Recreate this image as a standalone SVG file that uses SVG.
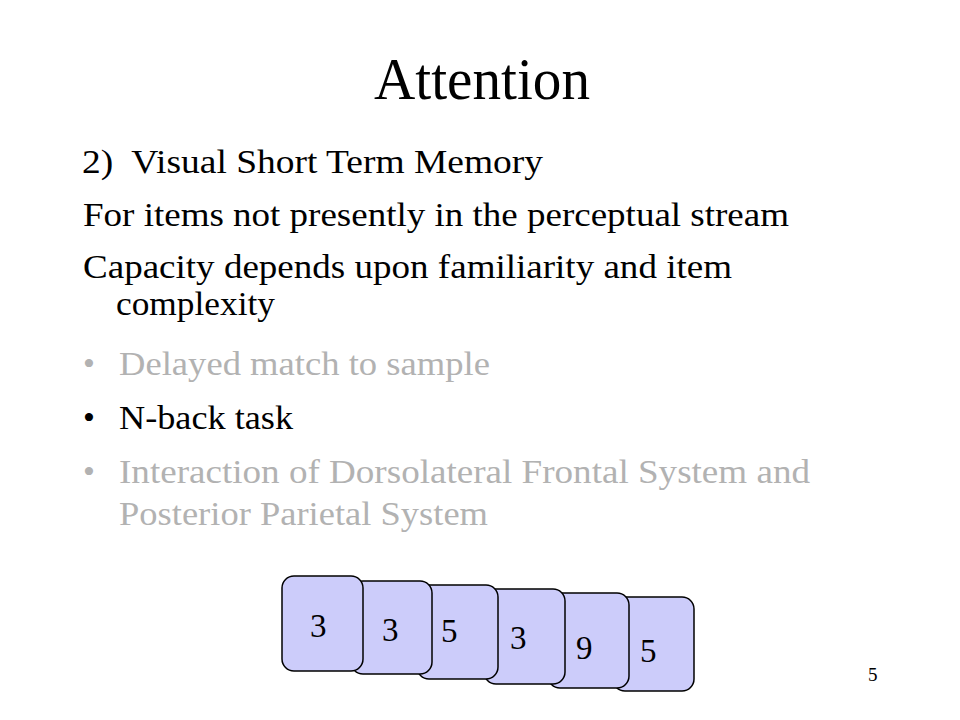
<svg xmlns="http://www.w3.org/2000/svg" width="960" height="720" viewBox="0 0 960 720">
<style>
.t{font-family:"Liberation Serif","Times New Roman",serif;fill:#000}
.b{font-size:34px}
.g{fill:#b2b2b2}
.card{fill:#ccccfa;stroke:#000;stroke-width:1.5}
.d{font-family:"Liberation Serif","Times New Roman",serif;font-size:33px;fill:#000}
</style>
<rect width="960" height="720" fill="#fff"/>
<g id="title"><text class="t" x="374" y="99" font-size="60" textLength="216" lengthAdjust="spacingAndGlyphs">Attention</text></g>
<g id="body">
<text class="t b" x="82" y="173" textLength="461" lengthAdjust="spacingAndGlyphs" xml:space="preserve">2)  Visual Short Term Memory</text>
<text class="t b" x="83" y="226" textLength="706" lengthAdjust="spacingAndGlyphs">For items not presently in the perceptual stream</text>
<text class="t b" x="83" y="278" textLength="649" lengthAdjust="spacingAndGlyphs">Capacity depends upon familiarity and item</text>
<text class="t b" x="116" y="315" textLength="159" lengthAdjust="spacingAndGlyphs">complexity</text>
<text class="t b g" x="83" y="375">•</text><text class="t b g" x="119" y="375" textLength="371" lengthAdjust="spacingAndGlyphs">Delayed match to sample</text>
<text class="t b" x="83" y="429">•</text><text class="t b" x="119" y="429" textLength="174" lengthAdjust="spacingAndGlyphs">N-back task</text>
<text class="t b g" x="83" y="483">•</text><text class="t b g" x="119" y="483" textLength="691" lengthAdjust="spacingAndGlyphs">Interaction of Dorsolateral Frontal System and</text>
<text class="t b g" x="119" y="525" textLength="369" lengthAdjust="spacingAndGlyphs">Posterior Parietal System</text>
</g>
<g id="page"><text class="t" x="868" y="681" font-size="19">5</text></g>
<g id="connectors"></g>
<g id="card6"><rect class="card" x="613" y="597" width="81" height="94" rx="12"/><text class="d" x="640" y="662">5</text></g>
<g id="card5"><rect class="card" x="548" y="593" width="81" height="95" rx="12"/><text class="d" x="576" y="659">9</text></g>
<g id="card4"><rect class="card" x="484" y="589" width="81" height="95" rx="12"/><text class="d" x="510" y="649">3</text></g>
<g id="card3"><rect class="card" x="417" y="585" width="81" height="94" rx="12"/><text class="d" x="441" y="642">5</text></g>
<g id="card2"><rect class="card" x="351" y="581" width="81" height="93" rx="12"/><text class="d" x="382" y="641">3</text></g>
<g id="card1"><rect class="card" x="282" y="576" width="81" height="95" rx="12"/><text class="d" x="310" y="637">3</text></g>
</svg>
